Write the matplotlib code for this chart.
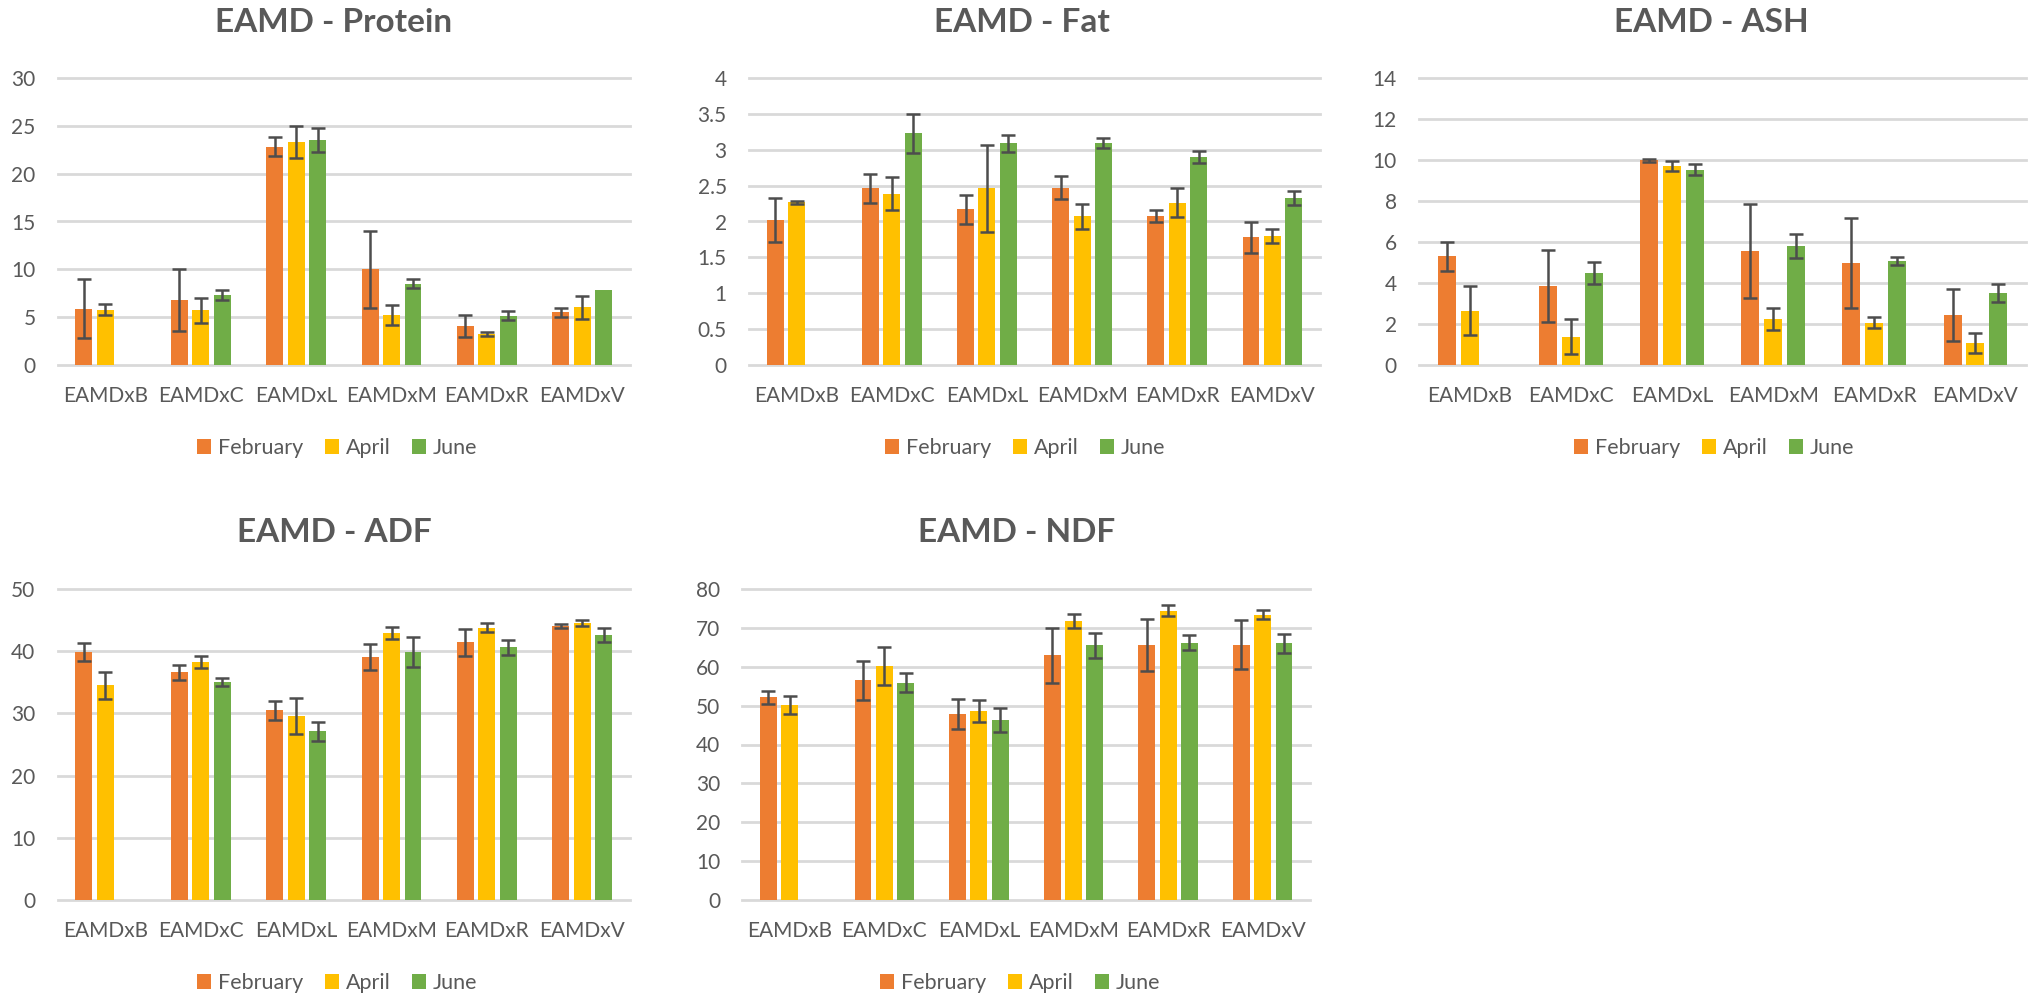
import numpy as np
import matplotlib
matplotlib.use("Agg")
import matplotlib.pyplot as plt
from matplotlib.patches import Patch

plt.rcParams["font.family"] = ["Lato", "DejaVu Sans"]

categories = ["EAMDxB", "EAMDxC", "EAMDxL", "EAMDxM", "EAMDxR", "EAMDxV"]
months = ["February", "April", "June"]
colors = ["#ED7D31", "#FFC000", "#70AD47"]

# Protein
protein_feb = [5.9, 6.8, 22.8, 10.0, 4.1, 5.5]
protein_apr = [5.8, 5.7, 23.3, 5.2, 3.25, 6.05]
protein_jun = [np.nan, 7.3, 23.5, 8.5, 5.15, 7.8]
protein_feb_err = [3.1, 3.2, 1.0, 4.0, 1.15, 0.45]
protein_apr_err = [0.6, 1.35, 1.7, 1.05, 0.25, 1.2]
protein_jun_err = [np.nan, 0.5, 1.25, 0.5, 0.45, np.nan]

# Fat
fat_feb = [2.02, 2.46, 2.17, 2.47, 2.08, 1.78]
fat_apr = [2.27, 2.39, 2.46, 2.07, 2.26, 1.80]
fat_jun = [np.nan, 3.23, 3.09, 3.10, 2.90, 2.33]
fat_feb_err = [0.31, 0.2, 0.2, 0.16, 0.085, 0.215]
fat_apr_err = [0.02, 0.23, 0.6, 0.175, 0.2, 0.1]
fat_jun_err = [np.nan, 0.27, 0.115, 0.07, 0.08, 0.095]

# Ash
ash_feb = [5.31, 3.86, 9.98, 5.56, 4.97, 2.43]
ash_apr = [2.65, 1.39, 9.71, 2.24, 2.06, 1.06]
ash_jun = [np.nan, 4.49, 9.53, 5.80, 5.08, 3.51]
ash_feb_err = [0.71, 1.75, 0.07, 2.31, 2.2, 1.27]
ash_apr_err = [1.2, 0.84, 0.26, 0.53, 0.26, 0.48]
ash_jun_err = [np.nan, 0.53, 0.26, 0.58, 0.2, 0.43]

# ADF
adf_feb = [39.85, 36.65, 30.5, 39.1, 41.45, 44.1]
adf_apr = [34.5, 38.2, 29.6, 42.9, 43.8, 44.55]
adf_jun = [np.nan, 35.04, 27.1, 39.9, 40.65, 42.6]
adf_feb_err = [1.5, 1.2, 1.5, 2.1, 2.15, 0.35]
adf_apr_err = [2.2, 0.95, 2.85, 0.95, 0.7, 0.45]
adf_jun_err = [np.nan, 0.6, 1.5, 2.4, 1.2, 1.1]

# NDF
ndf_feb = [52.1, 56.5, 47.9, 62.9, 65.5, 65.7]
ndf_apr = [50.2, 60.2, 48.6, 71.8, 74.4, 73.4]
ndf_jun = [np.nan, 55.9, 46.2, 65.5, 66.2, 66.0]
ndf_feb_err = [1.7, 5.0, 3.8, 7.0, 6.7, 6.2]
ndf_apr_err = [2.4, 4.8, 2.8, 1.85, 1.4, 1.2]
ndf_jun_err = [np.nan, 2.5, 3.1, 3.2, 1.9, 2.5]

W, H = 2039, 997
fig = plt.figure(figsize=(W / 100, H / 100), dpi=100)

TEXT = "#595959"
GRID = "#D9D9D9"
ERR = "#4D4D4D"

# name, series, errors, ymax, step, axes box in pixels (left, top, right, bottom),
# title/legend center x, title y, legend y
panels = [
    ("EAMD - Protein", [protein_feb, protein_apr, protein_jun],
     [protein_feb_err, protein_apr_err, protein_jun_err], 30, 5,
     (57.7, 78, 630, 365), 334, 23, 448),
    ("EAMD - Fat", [fat_feb, fat_apr, fat_jun],
     [fat_feb_err, fat_apr_err, fat_jun_err], 4, 0.5,
     (749, 78, 1320, 365), 1022, 23, 448),
    ("EAMD - ASH", [ash_feb, ash_apr, ash_jun],
     [ash_feb_err, ash_apr_err, ash_jun_err], 14, 2,
     (1419, 78, 2026, 365), 1711, 23, 448),
    ("EAMD - ADF", [adf_feb, adf_apr, adf_jun],
     [adf_feb_err, adf_apr_err, adf_jun_err], 50, 10,
     (57.7, 589, 630, 900), 334, 532, 983),
    ("EAMD - NDF", [ndf_feb, ndf_apr, ndf_jun],
     [ndf_feb_err, ndf_apr_err, ndf_jun_err], 80, 10,
     (742.4, 589, 1310, 900), 1017, 532, 983),
]

x = np.arange(len(categories))
bar_w = 0.178
offsets = [-0.225, 0.0, 0.225]

for title, series, errors, ymax, step, box, cx, ty, ly in panels:
    l, t, r, b = box
    ax = fig.add_axes([l / W, 1 - b / H, (r - l) / W, (b - t) / H])
    for vals, errs, off, col in zip(series, errors, offsets, colors):
        vals = np.asarray(vals, dtype=float)
        errs = np.asarray(errs, dtype=float)
        ax.bar(x + off, vals, width=bar_w, color=col, zorder=2)
        m = ~np.isnan(vals) & ~np.isnan(errs)
        ax.errorbar((x + off)[m], vals[m], yerr=errs[m], fmt="none",
                    ecolor=ERR, elinewidth=1.8, capsize=4.8, capthick=1.8,
                    zorder=3)
    ax.set_xlim(-0.5, len(categories) - 0.5)
    ax.set_ylim(0, ymax)
    ax.set_yticks(np.arange(0, ymax + step / 2, step))
    ax.yaxis.set_major_formatter(matplotlib.ticker.FuncFormatter(
        lambda v, p: f"{v:g}"))
    ax.set_xticks(x)
    ax.set_xticklabels(categories)
    ax.tick_params(axis="both", length=0, labelsize=15, labelcolor=TEXT)
    ax.tick_params(axis="y", pad=16)
    ax.tick_params(axis="x", pad=15)
    for s in ax.spines.values():
        s.set_visible(False)
    ax.grid(axis="y", color=GRID, linewidth=2.0, zorder=0)
    ax.set_axisbelow(True)
    for gl in ax.get_ygridlines():
        gl.set_clip_on(False)

    fig.text(cx / W, 1 - ty / H, title, ha="center", va="center",
             fontsize=24, fontweight="bold", color=TEXT)
    handles = [Patch(facecolor=c, edgecolor="none", label=mname)
               for c, mname in zip(colors, months)]
    fig.legend(handles=handles, loc="center", bbox_to_anchor=(cx / W + 3 / W, 1 - ly / H),
               ncol=3, frameon=False, fontsize=15.5, labelcolor=TEXT,
               handlelength=0.67, handleheight=0.67, handletextpad=0.3,
               columnspacing=1.0, borderpad=0)

fig.savefig("out.png", dpi=100, facecolor="white")
